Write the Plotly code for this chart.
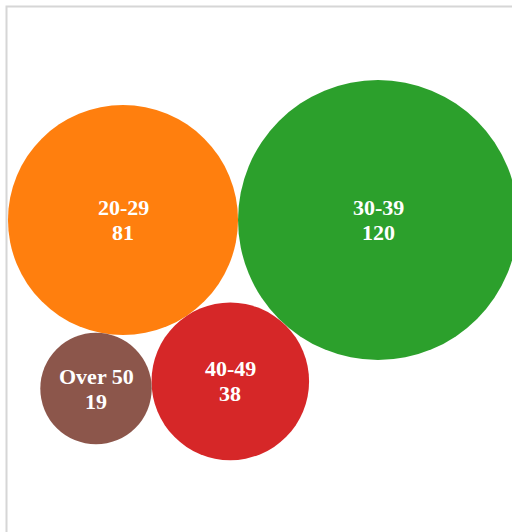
import math
import plotly.graph_objects as go

# Age groups and their counts
age_groups = ["20-29", "30-39", "40-49", "Over 50"]
counts = [81, 120, 38, 19]
colors = ["#ff7f0e", "#2ca02c", "#d62728", "#8c564b"]

W, H = 512, 532
RADIUS_SCALE = 12.78          # px of radius per sqrt(count)
ORIGIN = (123.0, 220.0)       # where the first bubble is centred (screen px)


def pack(radii):
    """Spiral packing: each bubble touches the previous one and the
    earliest bubble it can rest against without overlapping."""
    pts = [(0.0, 0.0)]
    if len(radii) > 1:
        pts.append((radii[0] + radii[1], 0.0))
    for i in range(2, len(radii)):
        r = radii[i]
        bx, by = pts[i - 1]
        rb = radii[i - 1]
        placed = None
        for j in range(0, i - 1):
            ax, ay = pts[j]
            ra = radii[j]
            dx, dy = bx - ax, by - ay
            d = math.hypot(dx, dy)
            da, db = ra + r, rb + r
            along = (d * d + da * da - db * db) / (2 * d)
            h = math.sqrt(max(0.0, da * da - along * along))
            ux, uy = dx / d, dy / d
            cx = ax + along * ux - h * uy
            cy = ay + along * uy + h * ux
            ok = all(
                math.hypot(cx - px, cy - py) >= r + radii[k] - 1e-6
                for k, (px, py) in enumerate(pts)
            )
            if ok:
                placed = (cx, cy)
                break
        pts.append(placed)
    return pts


radii = [RADIUS_SCALE * math.sqrt(v) for v in counts]
centres = pack(radii)
xs = [ORIGIN[0] + p[0] for p in centres]
ys = [ORIGIN[1] + p[1] for p in centres]

fig = go.Figure()
fig.add_trace(
    go.Scatter(
        x=xs,
        y=ys,
        mode="markers",
        marker=dict(
            size=[2 * r for r in radii],
            sizemode="diameter",
            color=colors,
            opacity=1,
            line=dict(width=0),
        ),
        hoverinfo="skip",
        showlegend=False,
    )
)

label_font = dict(family="Liberation Serif", size=22, color="white", weight="bold")
annotations = []
for x, y, name, v in zip(xs, ys, age_groups, counts):
    annotations.append(dict(x=x, y=y, text=name, showarrow=False,
                            xref="x", yref="y", yshift=12.5, font=label_font))
    annotations.append(dict(x=x, y=y, text=str(v), showarrow=False,
                            xref="x", yref="y", yshift=-12.5, font=label_font))

fig.update_layout(
    width=W,
    height=H,
    margin=dict(l=0, r=0, t=0, b=0),
    paper_bgcolor="white",
    plot_bgcolor="white",
    xaxis=dict(range=[0, W], visible=False, fixedrange=True),
    yaxis=dict(range=[H, 0], visible=False, fixedrange=True),
    annotations=annotations,
    shapes=[
        dict(type="rect", xref="x", yref="y", x0=6.5, y0=6.5, x1=W + 20, y1=H + 20,
             line=dict(color="#d6d6d6", width=2), layer="below"),
    ],
)

fig.write_html("out.html")
